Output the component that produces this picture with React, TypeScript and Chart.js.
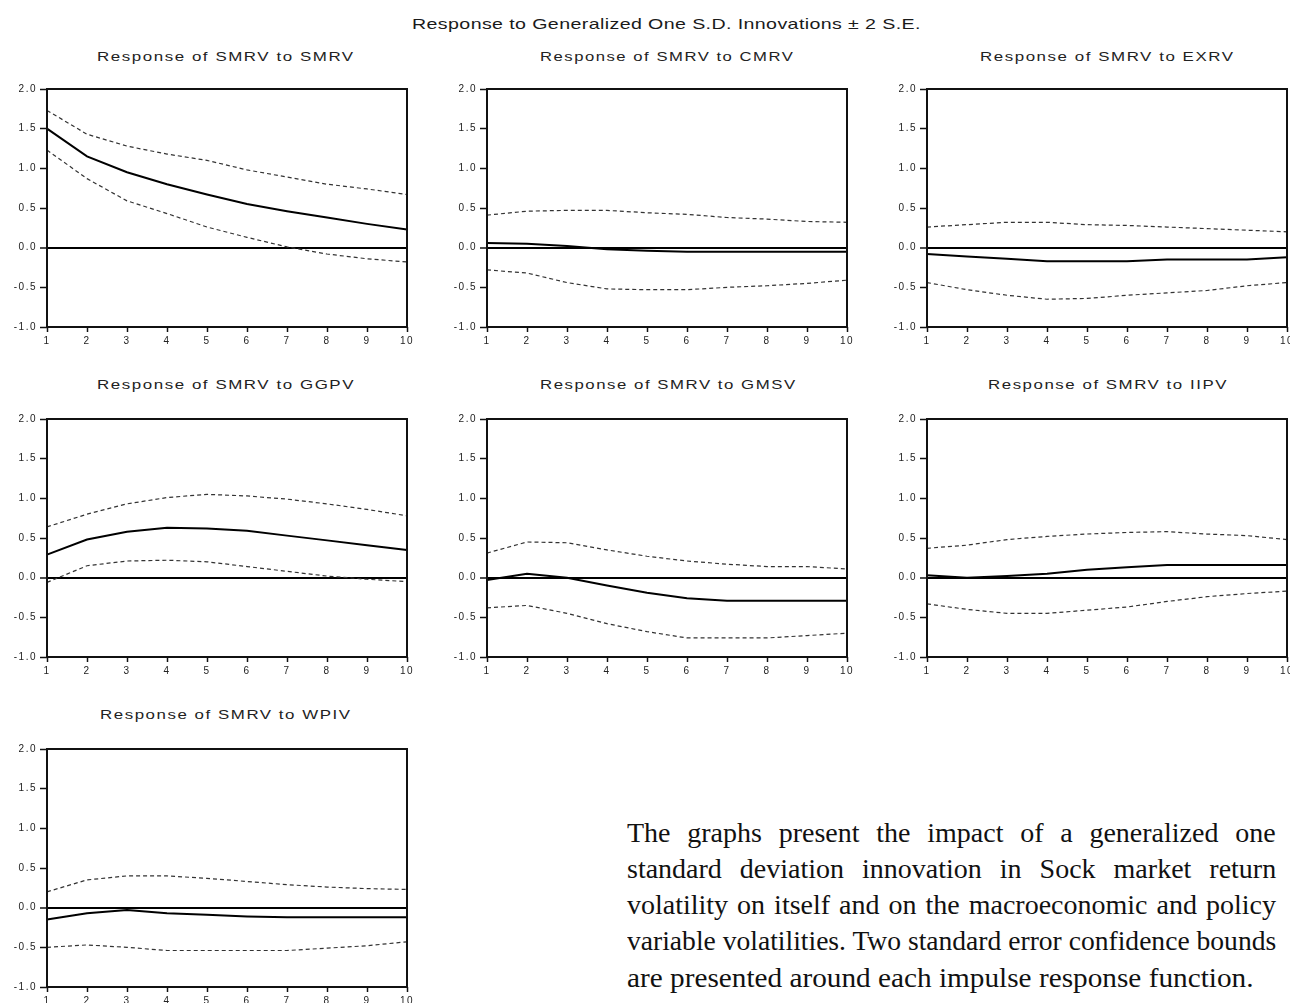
import React, { useEffect, useLayoutEffect, useRef, useState } from 'react';
import { Chart, registerables } from 'chart.js';

Chart.register(...registerables);

// ---------- data ----------
const horizon = ['1', '2', '3', '4', '5', '6', '7', '8', '9', '10'];
const yTickValues = [-1.0, -0.5, 0.0, 0.5, 1.0, 1.5, 2.0];

const smrvResp = [1.5, 1.15, 0.95, 0.8, 0.67, 0.55, 0.46, 0.38, 0.3, 0.23];
const smrvUp = [1.73, 1.43, 1.28, 1.18, 1.1, 0.98, 0.89, 0.8, 0.74, 0.67];
const smrvLo = [1.23, 0.87, 0.59, 0.43, 0.26, 0.13, 0.01, -0.08, -0.14, -0.18];

const cmrvResp = [0.06, 0.05, 0.02, -0.02, -0.04, -0.05, -0.05, -0.05, -0.05, -0.05];
const cmrvUp = [0.41, 0.46, 0.47, 0.47, 0.44, 0.42, 0.38, 0.36, 0.33, 0.32];
const cmrvLo = [-0.28, -0.32, -0.44, -0.52, -0.53, -0.53, -0.5, -0.48, -0.45, -0.41];

const exrvResp = [-0.08, -0.11, -0.14, -0.17, -0.17, -0.17, -0.15, -0.15, -0.15, -0.12];
const exrvUp = [0.26, 0.29, 0.32, 0.32, 0.29, 0.28, 0.26, 0.24, 0.22, 0.2];
const exrvLo = [-0.44, -0.53, -0.6, -0.65, -0.64, -0.6, -0.57, -0.54, -0.48, -0.44];

const ggpvResp = [0.29, 0.48, 0.58, 0.63, 0.62, 0.59, 0.53, 0.47, 0.41, 0.35];
const ggpvUp = [0.64, 0.8, 0.93, 1.01, 1.05, 1.03, 0.99, 0.93, 0.86, 0.78];
const ggpvLo = [-0.06, 0.15, 0.21, 0.22, 0.2, 0.14, 0.08, 0.02, -0.02, -0.05];

const gmsvResp = [-0.03, 0.05, 0.0, -0.1, -0.19, -0.26, -0.29, -0.29, -0.29, -0.29];
const gmsvUp = [0.31, 0.45, 0.44, 0.35, 0.27, 0.21, 0.17, 0.14, 0.14, 0.11];
const gmsvLo = [-0.38, -0.35, -0.45, -0.58, -0.68, -0.76, -0.76, -0.76, -0.73, -0.7];

const iipvResp = [0.03, 0.0, 0.02, 0.05, 0.1, 0.13, 0.16, 0.16, 0.16, 0.16];
const iipvUp = [0.37, 0.41, 0.48, 0.52, 0.55, 0.57, 0.58, 0.55, 0.53, 0.48];
const iipvLo = [-0.33, -0.4, -0.45, -0.45, -0.41, -0.37, -0.3, -0.24, -0.2, -0.17];

const wpivResp = [-0.15, -0.07, -0.03, -0.07, -0.09, -0.11, -0.12, -0.12, -0.12, -0.12];
const wpivUp = [0.2, 0.35, 0.4, 0.4, 0.37, 0.33, 0.29, 0.26, 0.24, 0.23];
const wpivLo = [-0.5, -0.47, -0.5, -0.54, -0.54, -0.54, -0.54, -0.51, -0.48, -0.43];

const mainTitle = 'Response to Generalized One S.D. Innovations \u00b1 2 S.E.';
const noteLines = [
  'The graphs present the impact of a generalized one',
  'standard deviation innovation in Sock market return',
  'volatility on itself and on the macroeconomic and policy',
  'variable volatilities. Two standard error confidence bounds',
  'are presented around each impulse response function.',
];

type Spec = {
  title: string;
  titleLeft: number;
  titleWidth: number;
  col: number;
  row: number;
  resp: number[];
  up: number[];
  lo: number[];
};

const panels: Spec[] = [
  { title: 'Response of SMRV to SMRV', titleLeft: 97, titleWidth: 256, col: 0, row: 0, resp: smrvResp, up: smrvUp, lo: smrvLo },
  { title: 'Response of SMRV to CMRV', titleLeft: 540, titleWidth: 253, col: 1, row: 0, resp: cmrvResp, up: cmrvUp, lo: cmrvLo },
  { title: 'Response of SMRV to EXRV', titleLeft: 980, titleWidth: 253, col: 2, row: 0, resp: exrvResp, up: exrvUp, lo: exrvLo },
  { title: 'Response of SMRV to GGPV', titleLeft: 97, titleWidth: 256, col: 0, row: 1, resp: ggpvResp, up: ggpvUp, lo: ggpvLo },
  { title: 'Response of SMRV to GMSV', titleLeft: 540, titleWidth: 255, col: 1, row: 1, resp: gmsvResp, up: gmsvUp, lo: gmsvLo },
  { title: 'Response of SMRV to IIPV', titleLeft: 988, titleWidth: 238, col: 2, row: 1, resp: iipvResp, up: iipvUp, lo: iipvLo },
  { title: 'Response of SMRV to WPIV', titleLeft: 100, titleWidth: 250, col: 0, row: 2, resp: wpivResp, up: wpivUp, lo: wpivLo },
];

// ---------- layout ----------
const PLOT_LEFTS = [47, 487, 927];
const PLOT_TOPS = [89, 419, 749];
const TITLE_TOPS = [49, 377, 707];
const PLOT_W = 360;
const PLOT_H = 238;
const PAD_T = 10;
const PAD_R = 10;
const Y_W = 47;
const X_H = 24;

const framePlugin = {
  id: 'frame',
  beforeDraw(chart: any) {
    chart.ctx.letterSpacing = '1.5px';
  },
  afterDatasetsDraw(chart: any) {
    const { ctx, chartArea: a } = chart;
    ctx.save();
    ctx.strokeStyle = '#111';
    ctx.lineWidth = 2;
    ctx.strokeRect(a.left, a.top, a.right - a.left, a.bottom - a.top);
    ctx.restore();
  },
  afterDraw(chart: any) {
    chart.ctx.letterSpacing = '0px';
  },
};

const tickFont = { family: 'Liberation Sans, Arial, sans-serif', size: 10 };

function Panel({ spec }: { spec: Spec }) {
  const ref = useRef<HTMLCanvasElement>(null);
  useEffect(() => {
    const dashed = {
      borderColor: '#333',
      borderWidth: 1.2,
      borderDash: [4, 3],
      pointRadius: 0,
      tension: 0,
      fill: false,
    };
    const chart = new Chart(ref.current as HTMLCanvasElement, {
      type: 'line',
      data: {
        labels: horizon,
        datasets: [
          { ...dashed, data: spec.up },
          { data: spec.resp, borderColor: '#000', borderWidth: 2, pointRadius: 0, tension: 0, fill: false },
          { ...dashed, data: spec.lo },
        ],
      },
      options: {
        responsive: false,
        animation: false,
        devicePixelRatio: 1,
        events: [],
        layout: { padding: { top: PAD_T, right: PAD_R, left: 0, bottom: 0 } },
        plugins: { legend: { display: false }, tooltip: { enabled: false }, title: { display: false } },
        scales: {
          x: {
            type: 'category',
            offset: false,
            border: { display: false },
            grid: { drawOnChartArea: false, drawTicks: true, tickLength: 5, tickColor: '#111', tickWidth: 1.5 },
            ticks: { font: tickFont, color: '#222', padding: 3, maxRotation: 0, autoSkip: false },
            afterFit: (s: any) => {
              s.height = X_H;
            },
          },
          y: {
            type: 'linear',
            min: yTickValues[0],
            max: yTickValues[yTickValues.length - 1],
            border: { display: false },
            afterBuildTicks: (s: any) => {
              s.ticks = yTickValues.map((v) => ({ value: v }));
            },
            ticks: {
              font: tickFont,
              color: '#222',
              padding: 3,
              callback: (v: any) => Number(v).toFixed(1),
            },
            grid: {
              color: (c: any) => (c.tick && c.tick.value === 0 ? '#000' : 'rgba(0,0,0,0)'),
              lineWidth: (c: any) => (c.tick && c.tick.value === 0 ? 2 : 1),
              tickColor: '#111',
              tickLength: 7,
              tickWidth: 1.5,
              drawTicks: true,
            },
            afterFit: (s: any) => {
              s.width = Y_W;
            },
          },
        },
      } as any,
      plugins: [framePlugin as any],
    });
    return () => chart.destroy();
  }, [spec]);

  const left = PLOT_LEFTS[spec.col] - Y_W;
  const top = PLOT_TOPS[spec.row] - PAD_T;
  return (
    <canvas
      ref={ref}
      width={Y_W + PLOT_W + PAD_R}
      height={PAD_T + PLOT_H + X_H}
      style={{ position: 'absolute', left, top, width: Y_W + PLOT_W + PAD_R, height: PAD_T + PLOT_H + X_H }}
    />
  );
}

type FitProps = {
  text: string;
  left: number;
  top: number;
  width: number;
  fontFamily: string;
  fontSize: number;
  lineHeight: number;
  letterSpacing?: number;
  color?: string;
  justify?: boolean;
  weight?: number;
};

function FitText({ text, left, top, width, fontFamily, fontSize, lineHeight, letterSpacing = 0, color = '#222', justify = false, weight = 400 }: FitProps) {
  const ref = useRef<HTMLSpanElement>(null);
  const [extra, setExtra] = useState<React.CSSProperties>({});
  useLayoutEffect(() => {
    const el = ref.current;
    if (!el) return;
    const w = el.offsetWidth - letterSpacing;
    const spaces = (text.match(/ /g) || []).length;
    if (justify && w < width && spaces > 0) {
      setExtra({ wordSpacing: (width - w) / spaces + 'px' });
    } else if (w > 0) {
      setExtra({ transform: `scaleX(${width / w})` });
    }
  }, []);
  return (
    <span
      ref={ref}
      style={{
        position: 'absolute',
        left,
        top,
        display: 'inline-block',
        whiteSpace: 'pre',
        fontFamily,
        fontSize,
        fontWeight: weight,
        lineHeight: lineHeight + 'px',
        letterSpacing,
        color,
        transformOrigin: '0 0',
        ...extra,
      }}
    >
      {text}
    </span>
  );
}

export default function App() {
  const sans = '"Liberation Sans", Arial, sans-serif';
  const serif = '"Liberation Serif", "Times New Roman", serif';
  const noteTops = [815, 851, 887, 923, 960];
  return (
    <div style={{ position: 'absolute', left: 0, top: 0, width: 1290, height: 1003, overflow: 'hidden', background: '#fff' }}>
      <FitText text={mainTitle} left={412} top={15} width={508} fontFamily={sans} fontSize={15} lineHeight={17} letterSpacing={0.3} color="#1a1a1a" />
      {panels.map((p) => (
        <FitText
          key={p.title + '-t'}
          text={p.title}
          left={p.titleLeft}
          top={TITLE_TOPS[p.row]}
          width={p.titleWidth}
          fontFamily={sans}
          fontSize={13}
          lineHeight={15}
          letterSpacing={1.2}
          color="#222"
        />
      ))}
      {panels.map((p) => (
        <Panel key={p.title} spec={p} />
      ))}
      {noteLines.map((line, i) => (
        <FitText
          key={i}
          text={line}
          left={627}
          top={noteTops[i]}
          width={i === noteLines.length - 1 ? 626 : 649}
          fontFamily={serif}
          fontSize={28}
          lineHeight={36}
          color="#111"
          justify={i !== noteLines.length - 1}
        />
      ))}
    </div>
  );
}
